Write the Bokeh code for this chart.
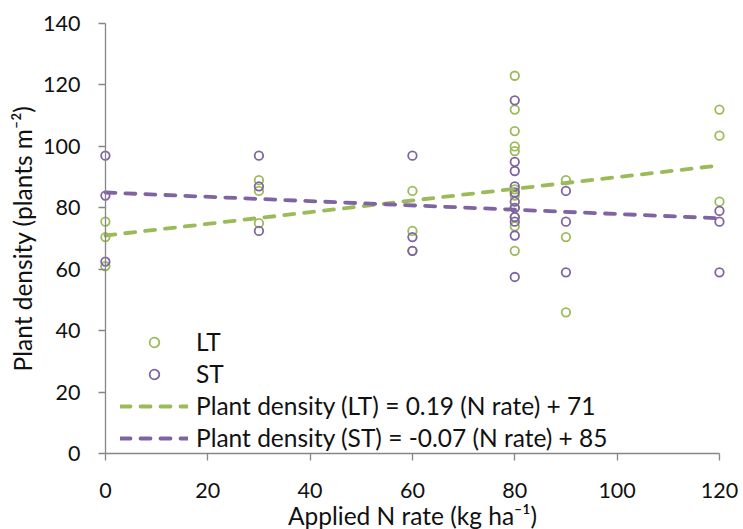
from bokeh.plotting import figure
from bokeh.models import Range1d, Legend, LegendItem, FixedTicker
from bokeh.embed import file_html
from bokeh.resources import INLINE

# ---- data ----
lt_n = [0, 0, 0, 30, 30, 30, 60, 60, 60] + [80] * 11 + [90, 90, 90, 120, 120, 120]
lt_density = [75.5, 70.5, 61, 89, 85.5, 75, 85.5, 72.5, 66,
              123, 112, 105, 100, 98.5, 86, 84, 80, 77, 74, 66,
              89, 70.5, 46, 112, 103.5, 82]
st_n = [0, 0, 0, 30, 30, 30, 60, 60, 60] + [80] * 11 + [90, 90, 90, 120, 120, 120]
st_density = [97, 84, 62.5, 97, 87, 72.5, 97, 70.5, 66,
              115, 95, 92, 87, 85, 82, 80, 77, 75.5, 71, 57.5,
              85.5, 75.5, 59, 79, 75.5, 59]
trend_x = [0, 120]
lt_slope, lt_intercept = 0.19, 71
st_slope, st_intercept = -0.07, 85
x_ticks = [0, 20, 40, 60, 80, 100, 120]
y_ticks = [0, 20, 40, 60, 80, 100, 120, 140]
lt_label = "Plant density (LT) = 0.19 (N rate) + 71"
st_label = "Plant density (ST) = -0.07 (N rate) + 85"

GREEN = "#9BBB59"
PURPLE = "#8064A2"
AXIS = "#868686"
TEXT = "#111111"
FONT = "Lato"

# frame fills the whole figure; axes are pinned at x=0 / y=0
p = figure(width=743, height=529, output_backend="svg", toolbar_location=None,
           x_range=Range1d(-20.5, 124.7), y_range=Range1d(-24.7, 147.5),
           min_border_left=0, min_border_right=0, min_border_top=0, min_border_bottom=0)
p.outline_line_color = None
p.grid.visible = False

lt_r = p.scatter(lt_n, lt_density, size=8.5, marker="circle", fill_color=None,
                 line_color=GREEN, line_width=1.8)
st_r = p.scatter(st_n, st_density, size=8.5, marker="circle", fill_color=None,
                 line_color=PURPLE, line_width=1.8)
lt_line = p.line(trend_x, [lt_slope * x + lt_intercept for x in trend_x],
                 line_color=GREEN, line_width=3.8, line_dash="10 10", line_cap="round")
st_line = p.line(trend_x, [st_slope * x + st_intercept for x in trend_x],
                 line_color=PURPLE, line_width=3.8, line_dash="10 10", line_cap="round")

for ax in (p.xaxis[0], p.yaxis[0]):
    ax.axis_line_color = AXIS
    ax.axis_line_width = 1.3
    ax.major_tick_line_color = AXIS
    ax.major_tick_line_width = 1.3
    ax.major_tick_out = 7
    ax.major_tick_in = 0
    ax.minor_tick_line_color = None
    ax.major_label_text_font = FONT
    ax.major_label_text_font_size = "21.5px"
    ax.major_label_text_color = TEXT
    ax.axis_label_text_font = FONT
    ax.axis_label_text_font_size = "24.5px"
    ax.axis_label_text_font_style = "normal"
    ax.axis_label_text_color = TEXT

p.xaxis.ticker = FixedTicker(ticks=x_ticks)
p.yaxis.ticker = FixedTicker(ticks=y_ticks)
p.xaxis.bounds = (0, 120)
p.yaxis.bounds = (0, 140)
p.xaxis.fixed_location = 0
p.yaxis.fixed_location = 0
p.xaxis.axis_label = "Applied N rate (kg ha\u207b\u00b9)"
p.yaxis.axis_label = "Plant density (plants m\u207b\u00b2)"
p.xaxis.major_label_standoff = 22
p.yaxis.major_label_standoff = 18
p.xaxis.axis_label_standoff = 0
p.yaxis.axis_label_standoff = 3

legend = Legend(items=[
    LegendItem(label="LT", renderers=[lt_r]),
    LegendItem(label="ST", renderers=[st_r]),
    LegendItem(label=lt_label, renderers=[lt_line]),
    LegendItem(label=st_label, renderers=[st_line]),
], location=(120, 77))
legend.background_fill_alpha = 0
legend.border_line_color = None
legend.label_text_font = FONT
legend.label_text_font_size = "24.5px"
legend.label_text_color = TEXT
legend.glyph_width = 68
legend.glyph_height = 24
legend.label_height = 24
legend.label_standoff = 8
legend.spacing = 3
legend.padding = 0
legend.margin = 0
p.add_layout(legend)

open("out.html", "w").write(file_html(p, INLINE))
